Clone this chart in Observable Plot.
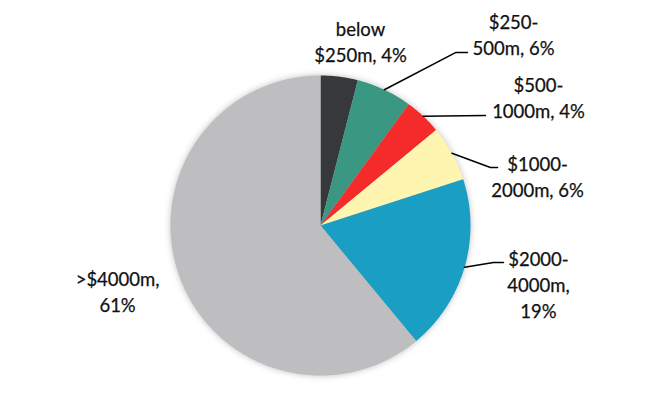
<!DOCTYPE html>
<html>
<head>
<meta charset="utf-8">
<script src="https://cdn.jsdelivr.net/npm/d3@7"></script>
<script src="https://cdn.jsdelivr.net/npm/@observablehq/plot@0.6"></script>
<style>
  html, body { margin: 0; padding: 0; background: #fff; }
  #chart { width: 660px; height: 394px; }
</style>
</head>
<body>
<div id="chart"></div>
<script>
// ---- data ----
const categories = ["below $250m", "$250-500m", "$500-1000m", "$1000-2000m", "$2000-4000m", ">$4000m"];
const shares = [4, 6, 4, 6, 19, 61];
const labels = ["below\n$250m, 4%", "$250-\n500m, 6%", "$500-\n1000m, 4%", "$1000-\n2000m, 6%", "$2000-\n4000m,\n19%", ">$4000m,\n61%"];
const colors = ["#36383c", "#3a9882", "#f52a2a", "#fdf5b0", "#1a9ec4", "#bebdbf"];

// ---- label layout (unit-circle coordinates, radius = 1) ----
const labelX = [0.267, 1.287, 1.453, 1.447, 1.453, -1.353];
const labelY = [1.233, 1.28, 0.86, 0.333, -0.387, -0.433];
// leader lines: [elbowX, elbowY, endX] or null
const leaders = [null, [0.9, 1.153, 0.98], [1.1, 0.733, 1.1], [1.133, 0.387, 1.18], [1.153, -0.247, 1.22], null];

// ---- build slice polygons from the shares ----
const pie = d3.pie().sort(null).value(d => d)(shares);
const slicePts = [];
const leaderPts = [];
pie.forEach((p, i) => {
  const a0 = p.startAngle, a1 = p.endAngle;
  const n = Math.max(2, Math.ceil((a1 - a0) / (Math.PI / 360)));
  slicePts.push({cat: categories[i], x: 0, y: 0});
  for (let k = 0; k <= n; k++) {
    const a = a0 + (a1 - a0) * k / n;
    slicePts.push({cat: categories[i], x: Math.sin(a), y: Math.cos(a)});
  }
  const L = leaders[i];
  if (L) {
    const m = (a0 + a1) / 2;
    leaderPts.push({cat: categories[i], x: Math.sin(m), y: Math.cos(m)});
    leaderPts.push({cat: categories[i], x: L[0], y: L[1]});
    leaderPts.push({cat: categories[i], x: L[2], y: L[1]});
  }
});
const labelData = categories.map((c, i) => ({cat: c, x: labelX[i], y: labelY[i], text: labels[i]}));

const chart = Plot.plot({
  width: 660,
  height: 394,
  marginLeft: 170,
  marginRight: 190,
  marginTop: 75,
  marginBottom: 19,
  x: {domain: [-1, 1], axis: null},
  y: {domain: [-1, 1], axis: null},
  color: {domain: categories, range: colors},
  style: {fontFamily: "Lato, 'Open Sans', sans-serif", background: "#fff"},
  marks: [
    Plot.line(slicePts, {x: "x", y: "y", z: "cat", fill: "cat", stroke: "none", curve: "linear"}),
    Plot.line(leaderPts, {x: "x", y: "y", z: "cat", stroke: "#000", strokeWidth: 1.5}),
    Plot.text(labelData, {x: "x", y: "y", text: "text", fontSize: 18.5, lineHeight: 1.43, fill: "#111", textAnchor: "middle", stroke: "#111", strokeWidth: 0.25})
  ]
});
document.getElementById("chart").appendChild(chart);
d3.select(chart).select('g[aria-label="line"]').style("filter", "drop-shadow(0px 0px 3px rgba(0,0,0,0.25))");
</script>
</body>
</html>
